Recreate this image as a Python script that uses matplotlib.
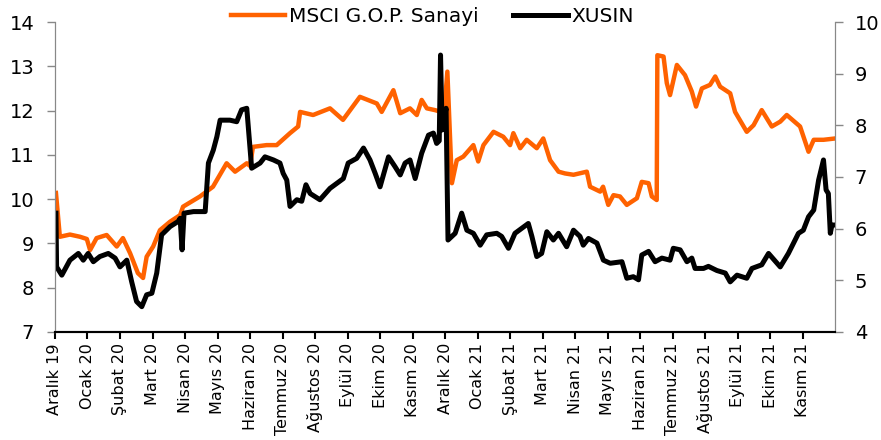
import numpy as np
import matplotlib.pyplot as plt

months = ['Aralık 19', 'Ocak 20', 'Şubat 20', 'Mart 20', 'Nisan 20', 'Mayıs 20',
          'Haziran 20', 'Temmuz 20', 'Ağustos 20', 'Eylül 20', 'Ekim 20', 'Kasım 20',
          'Aralık 20', 'Ocak 21', 'Şubat 21', 'Mart 21', 'Nisan 21', 'Mayıs 21',
          'Haziran 21', 'Temmuz 21', 'Ağustos 21', 'Eylül 21', 'Ekim 21', 'Kasım 21']

# time in months since start of Aralık 19
msci_t = [0.03, 0.15, 0.46, 0.77, 0.98, 1.08, 1.28, 1.59, 1.90, 2.09, 2.31, 2.55, 2.71,
          2.82, 3.02, 3.23, 3.54, 3.85, 3.94, 4.46, 4.86, 5.28, 5.54, 5.90, 6.00, 6.09,
          6.51, 6.82, 7.23, 7.48, 7.54, 7.94, 8.46, 8.86, 9.38, 9.90, 10.05, 10.41, 10.62,
          10.92, 11.13, 11.28, 11.44, 11.69, 11.97, 12.07, 12.21, 12.36, 12.56, 12.87,
          13.02, 13.18, 13.49, 13.79, 14.00, 14.10, 14.31, 14.51, 14.82, 15.02, 15.23,
          15.49, 15.69, 15.95, 16.36, 16.46, 16.77, 16.86, 17.02, 17.18, 17.38, 17.59,
          17.90, 18.05, 18.26, 18.36, 18.51, 18.53, 18.72, 18.82, 18.92, 19.13, 19.38,
          19.59, 19.72, 19.90, 20.15, 20.31, 20.46, 20.77, 20.92, 21.28, 21.49, 21.74,
          22.05, 22.31, 22.51, 22.92, 23.18, 23.34, 23.64, 24.00]
msci = [10.14, 9.15, 9.20, 9.15, 9.10, 8.85, 9.12, 9.19, 8.93, 9.12, 8.78, 8.33, 8.22,
        8.70, 8.93, 9.30, 9.49, 9.64, 9.83, 10.06, 10.28, 10.81, 10.62, 10.81, 10.75, 11.18,
        11.22, 11.22, 11.49, 11.64, 11.97, 11.90, 12.05, 11.79, 12.31, 12.16, 11.97, 12.46,
        11.94, 12.05, 11.90, 12.24, 12.05, 12.01, 11.95, 12.88, 10.36, 10.88, 10.96, 11.22,
        10.85, 11.22, 11.52, 11.41, 11.22, 11.49, 11.15, 11.34, 11.15, 11.37, 10.88,
        10.62, 10.58, 10.55, 10.62, 10.28, 10.17, 10.28, 9.87, 10.09, 10.06, 9.87,
        10.02, 10.39, 10.36, 10.06, 9.98, 13.25, 13.22, 12.62, 12.35, 13.03, 12.80,
        12.43, 12.09, 12.50, 12.58, 12.77, 12.54, 12.39, 11.97, 11.52, 11.67, 12.01,
        11.64, 11.75, 11.90, 11.64, 11.07, 11.34, 11.34, 11.37]

xusin_t = [0.03, 0.05, 0.21, 0.46, 0.72, 0.87, 1.02, 1.18, 1.38, 1.64, 1.85, 2.00, 2.21,
           2.36, 2.51, 2.67, 2.82, 2.98, 3.13, 3.28, 3.54, 3.79, 3.85, 3.91, 3.97, 4.26,
           4.62, 4.72, 4.87, 4.98, 5.08, 5.38, 5.59, 5.74, 5.90, 6.05, 6.31, 6.46, 6.72,
           6.92, 7.02, 7.13, 7.23, 7.44, 7.59, 7.72, 7.85, 8.15, 8.46, 8.87, 9.02, 9.28,
           9.49, 9.69, 9.85, 10.00, 10.26, 10.46, 10.62, 10.77, 10.92, 11.08, 11.28, 11.49,
           11.64, 11.74, 11.82, 11.86, 11.91, 12.03, 12.09, 12.31, 12.51, 12.67, 12.87,
           13.08, 13.28, 13.59, 13.74, 13.95, 14.15, 14.56, 14.67, 14.82, 14.97, 15.13,
           15.33, 15.49, 15.74, 15.95, 16.15, 16.25, 16.41, 16.67, 16.87, 17.08, 17.44,
           17.59, 17.79, 17.95, 18.05, 18.26, 18.46, 18.67, 18.92, 19.02, 19.23, 19.44,
           19.59, 19.69, 19.95, 20.10, 20.36, 20.62, 20.77, 20.98, 21.28, 21.44, 21.74,
           21.95, 22.31, 22.56, 22.87, 23.02, 23.18, 23.34, 23.49, 23.64, 23.72, 23.79,
           23.85, 23.90, 24.00]
xusin = [6.30, 5.26, 5.10, 5.39, 5.52, 5.39, 5.52, 5.36, 5.46, 5.52, 5.43, 5.26, 5.39,
         4.97, 4.59, 4.49, 4.72, 4.75, 5.14, 5.88, 6.04, 6.14, 6.20, 5.59, 6.30, 6.33,
         6.33, 7.27, 7.52, 7.78, 8.10, 8.10, 8.07, 8.30, 8.33, 7.17, 7.27, 7.39, 7.33,
         7.27, 7.07, 6.94, 6.43, 6.56, 6.53, 6.85, 6.68, 6.56, 6.78, 6.97, 7.27, 7.36,
         7.56, 7.33, 7.07, 6.81, 7.39, 7.20, 7.04, 7.27, 7.33, 6.97, 7.46, 7.81,
         7.85, 7.65, 7.70, 9.36, 7.91, 8.33, 5.78, 5.91, 6.30, 5.97, 5.91,
         5.68, 5.88, 5.91, 5.85, 5.62, 5.91, 6.10, 5.85, 5.46, 5.52, 5.94,
         5.78, 5.91, 5.65, 5.97, 5.85, 5.68, 5.81, 5.72, 5.39, 5.33, 5.36,
         5.04, 5.07, 5.01, 5.49, 5.56, 5.36, 5.43, 5.39, 5.62, 5.59, 5.36,
         5.43, 5.23, 5.23, 5.27, 5.19, 5.14, 4.97, 5.10, 5.04, 5.23, 5.30,
         5.52, 5.26, 5.52, 5.91, 5.97, 6.23, 6.36, 6.94, 7.33, 6.75, 6.68,
         5.91, 6.07, 6.07]

orange = '#ff6200'

fig = plt.figure(figsize=(8.81, 4.40), dpi=100)
ax = fig.add_axes([0.0624, 0.2455, 0.8856, 0.7045])
ax2 = ax.twinx()

l1, = ax.plot(msci_t, msci, color=orange, lw=3.2, solid_joinstyle='round', label='MSCI G.O.P. Sanayi')
l2, = ax2.plot(xusin_t, xusin, color='black', lw=3.6, solid_joinstyle='round', label='XUSIN')

ax.set_xlim(0, 24)
ax.set_ylim(7, 14)
ax2.set_ylim(4, 10)
ax.set_yticks(range(7, 15))
ax2.set_yticks(range(4, 11))
ax.set_xticks(np.arange(len(months)))
ax.set_xticklabels(months, rotation=90)

for a in (ax, ax2):
    a.spines['top'].set_visible(False)
    a.spines['left'].set_color('#888888')
    a.spines['right'].set_color('#888888')
    a.spines['bottom'].set_color('black')
    a.spines['bottom'].set_linewidth(1.5)
ax.tick_params(axis='y', colors='#888888', labelcolor='black', labelsize=14,
               length=6, width=1, pad=9)
ax2.tick_params(axis='y', colors='#888888', labelcolor='black', labelsize=14,
                length=6, width=1, pad=8)
ax.tick_params(axis='x', length=5, width=1.5, labelsize=11.5, pad=3)

fig.legend(handles=[l1, l2], loc='center', bbox_to_anchor=(0.491, 0.963), ncol=2,
           frameon=False, fontsize=14.5, handlelength=2.7, handletextpad=0.2,
           columnspacing=1.7)

fig.savefig('out.png', dpi=100)
